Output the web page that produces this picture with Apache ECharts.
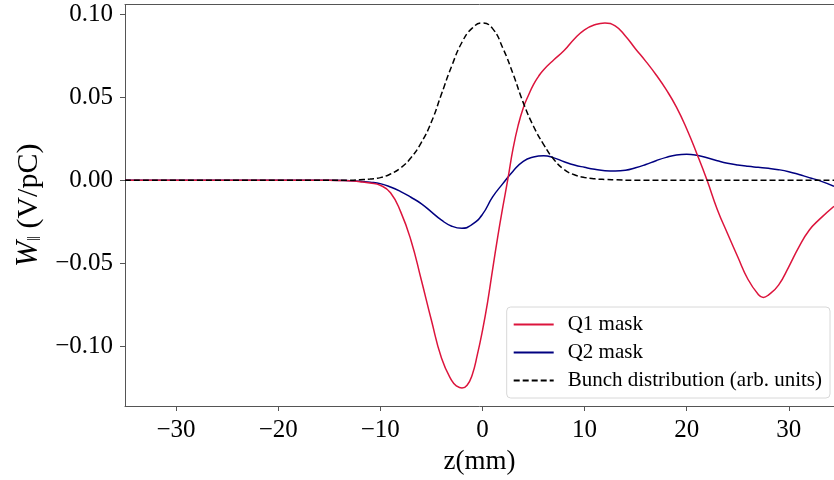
<!DOCTYPE html>
<html>
<head>
<meta charset="utf-8">
<title>Wakefield</title>
<script src="https://cdn.jsdelivr.net/npm/echarts@6/dist/echarts.min.js"></script>
<style>
    html, body { margin: 0; padding: 0; background: #fff; }
    #chart { width: 834px; height: 480px; }
</style>
</head>
<body>
<div id="chart"></div>
<script>
(function () {
    'use strict';

    // z positions (mm) and wake values (V/pC)
    var q1Z = [-35, -20, -15, -14, -13, -12, -11, -10, -9, -8, -7, -6, -5, -4, -3, -2.5, -2,
        -1.5, -1, -0.5, 0, 0.5, 1, 1.5, 2, 2.5, 3, 3.5, 4, 4.5, 5, 5.5, 6, 7, 8, 9, 10, 11, 12,
        13, 14, 15, 16, 17, 18, 19, 20, 21, 22, 23, 24, 25, 26, 27, 27.5, 28, 29, 30, 31, 32,
        33, 34.43];
    var q1W = [0, 0, 0, -0.0001, -0.0003, -0.0008, -0.0016, -0.0030, -0.0075, -0.019, -0.036,
        -0.0595, -0.084, -0.107, -0.1205, -0.1238, -0.1249, -0.1232, -0.1170, -0.105, -0.0905,
        -0.0735, -0.0535, -0.034, -0.016, 0.001, 0.019, 0.033, 0.0435, 0.051, 0.0575, 0.0625,
        0.0665, 0.0725, 0.078, 0.085, 0.0905, 0.0935, 0.0946, 0.0928, 0.0868, 0.0790, 0.0715,
        0.0635, 0.0545, 0.0440, 0.031, 0.016, 0.000, -0.0175, -0.032, -0.046, -0.0595,
        -0.0685, -0.0704, -0.069, -0.063, -0.052, -0.040, -0.030, -0.0235, -0.0156];

    var q2Z = [-35, -15, -13, -12, -11, -10, -9, -8, -7, -6, -5, -4, -3, -2, -1, 0, 1, 2, 3, 4,
        5, 6, 7, 8, 9, 10, 11, 12, 13, 14, 15, 16, 17, 18, 19, 20, 21, 22, 23, 24, 25, 26, 27,
        28, 29, 30, 31, 32, 33, 34.43];
    var q2W = [0, 0, -0.0002, -0.0005, -0.0011, -0.0020, -0.0040, -0.0068, -0.0102, -0.0140,
        -0.0190, -0.0240, -0.0276, -0.0289, -0.0265, -0.0205, -0.0100, -0.0020, 0.0055, 0.0114,
        0.0140, 0.0148, 0.0135, 0.0112, 0.0092, 0.0078, 0.0066, 0.0058, 0.0056, 0.0060, 0.0075,
        0.0095, 0.0118, 0.0138, 0.0152, 0.0156, 0.0150, 0.0135, 0.0118, 0.0103, 0.0092, 0.0084,
        0.0078, 0.0072, 0.0064, 0.0052, 0.0035, 0.0016, -0.0002, -0.0036];

    var bunchZ = [-35, -15, -13, -12, -11, -10, -9, -8, -7, -6, -5, -4, -3, -2, -1, 0, 1, 2, 3,
        4, 5, 6, 7, 8, 9, 10, 11, 12, 13, 15, 34.43];
    var bunchW = [0, 0, 0.0001, 0.0004, 0.0008, 0.0016, 0.0038, 0.0075, 0.0135, 0.0225, 0.035,
        0.052, 0.0688, 0.083, 0.0915, 0.0946, 0.0912, 0.0795, 0.064, 0.0467, 0.0325, 0.0215,
        0.0125, 0.0065, 0.0033, 0.0017, 0.0009, 0.0005, 0.0003, 0, 0];

    var seriesNames = ['Q1 mask', 'Q2 mask', 'Bunch distribution (arb. units)'];

    var xMin = -35, xMax = 34.43;
    var yMin = -0.1357, yMax = 0.1057;

    var FONT = '"Liberation Serif", "DejaVu Serif", serif';
    var AXIS_COLOR = '#555';

    function zip(xs, ys) {
        var out = [];
        for (var i = 0; i < xs.length; i++) out.push([xs[i], ys[i]]);
        return out;
    }

    function minus(s) {
        return s.replace('-', '\u2212');
    }

    var chart = echarts.init(document.getElementById('chart'), null, { renderer: 'canvas' });

    chart.setOption({
        animation: false,
        backgroundColor: '#fff',
        grid: { left: 125, right: 0, top: 4.5, bottom: 72, containLabel: false },
        legend: {
            orient: 'vertical',
            right: 4,
            bottom: 82,
            data: seriesNames,
            itemWidth: 40,
            itemHeight: 10,
            itemGap: 7,
            padding: [7, 8, 7, 6],
            backgroundColor: 'rgba(255,255,255,0.8)',
            borderColor: '#d8d8d8',
            borderWidth: 1,
            borderRadius: 4,
            itemStyle: { opacity: 0 },
            textStyle: { fontFamily: FONT, fontSize: 21, color: '#000', lineHeight: 21, padding: [0, 0, 0, 9] }
        },
        xAxis: [{
            type: 'value',
            min: xMin,
            max: xMax,
            minInterval: 10,
            maxInterval: 10,
            splitNumber: 7,
            name: 'z(mm)',
            nameLocation: 'middle',
            nameGap: 42,
            nameTextStyle: { fontFamily: FONT, fontSize: 27, color: '#000' },
            axisLine: { show: true, onZero: false, lineStyle: { color: AXIS_COLOR, width: 1 } },
            axisTick: { show: true, length: 5, lineStyle: { color: AXIS_COLOR } },
            axisLabel: {
                showMinLabel: false,
                showMaxLabel: false,
                margin: 12,
                fontFamily: FONT,
                fontSize: 25,
                color: '#000',
                formatter: function (v) { return minus(String(Math.round(v))); }
            },
            splitLine: { show: false }
        }, {
            type: 'value',
            position: 'top',
            min: xMin,
            max: xMax,
            axisLine: { show: true, onZero: false, lineStyle: { color: AXIS_COLOR, width: 1 } },
            axisTick: { show: false },
            axisLabel: { show: false },
            splitLine: { show: false }
        }],
        yAxis: {
            type: 'value',
            min: yMin,
            max: yMax,
            minInterval: 0.05,
            maxInterval: 0.05,
            splitNumber: 5,
            name: '{w|W}{s|\u2016}{n| (V/pC)}',
            nameLocation: 'middle',
            nameRotate: 90,
            nameGap: 78,
            nameTextStyle: {
                color: '#000',
                rich: {
                    w: { fontFamily: FONT, fontSize: 31, fontStyle: 'italic', color: '#000' },
                    s: { fontFamily: FONT, fontSize: 18, color: '#000', padding: [13, 0, 0, 0] },
                    n: { fontFamily: FONT, fontSize: 30, color: '#000' }
                }
            },
            axisLine: { show: true, onZero: false, lineStyle: { color: AXIS_COLOR, width: 1 } },
            axisTick: { show: true, length: 5, lineStyle: { color: AXIS_COLOR } },
            axisLabel: {
                showMinLabel: false,
                showMaxLabel: false,
                margin: 12,
                fontFamily: FONT,
                fontSize: 25,
                color: '#000',
                formatter: function (v) { return minus(v.toFixed(2)); }
            },
            splitLine: { show: false }
        },
        series: [{
            name: seriesNames[0],
            type: 'line',
            data: zip(q1Z, q1W),
            smooth: 0.5,
            showSymbol: false,
            symbol: 'none',
            color: '#dc143c',
            lineStyle: { color: '#dc143c', width: 1.5 },
            z: 3
        }, {
            name: seriesNames[1],
            type: 'line',
            data: zip(q2Z, q2W),
            smooth: 0.5,
            showSymbol: false,
            symbol: 'none',
            color: '#000080',
            lineStyle: { color: '#000080', width: 1.5 },
            z: 2
        }, {
            name: seriesNames[2],
            type: 'line',
            data: zip(bunchZ, bunchW),
            smooth: 0.5,
            showSymbol: false,
            symbol: 'none',
            color: '#000',
            lineStyle: { color: '#000', width: 1.5, type: [6, 3] },
            z: 4
        }]
    });

    window.addEventListener('resize', function () {
        chart.resize();
    });
})();
</script>
</body>
</html>
